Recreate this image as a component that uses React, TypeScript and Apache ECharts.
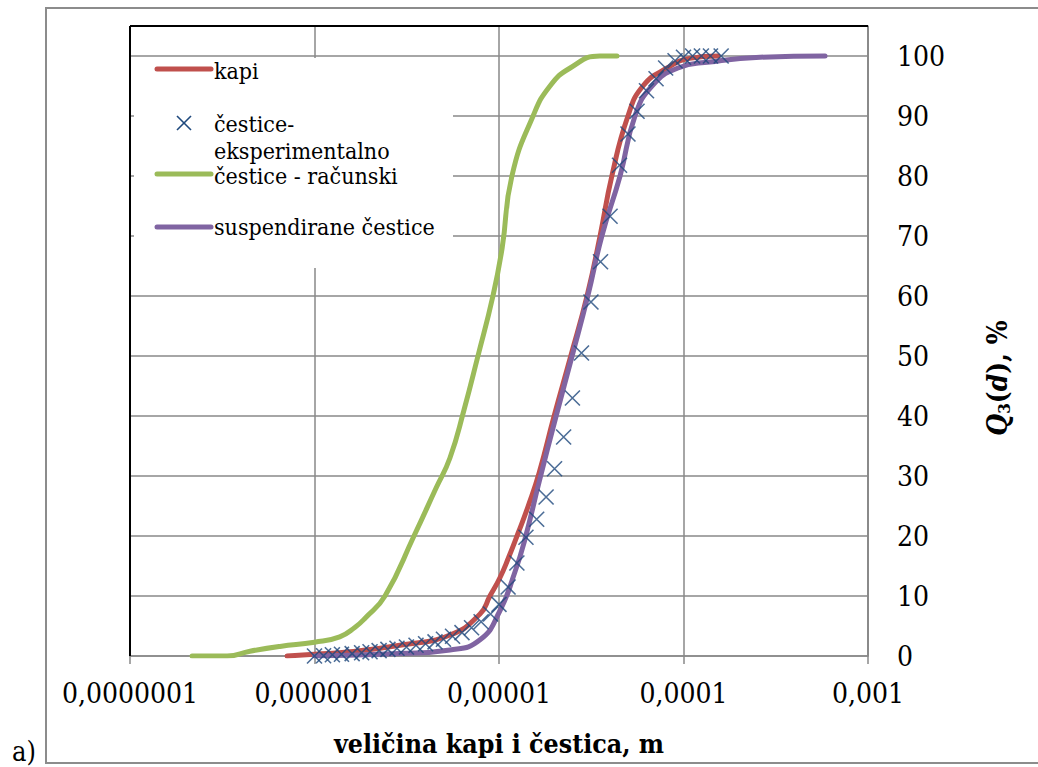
import React, { useEffect, useRef } from "react";
import * as echarts from "echarts";

const W = 1038;
const H = 767;
const SERIF = "DejaVu Serif Condensed, DejaVu Serif";

// kapi (droplets): size in micrometres, cumulative Q3 in %
const kapiSizeUm = [0.71, 1.0, 1.56, 2.9, 5.42, 7.89, 8.93, 10.1, 11.3, 12.7, 14.4, 16.5, 19.9, 24.5, 30.0, 35.3, 40.9, 50.0, 60.3, 81.5, 108, 154];
const kapiQ = [0, 0.3, 0.7, 1.8, 3.5, 7, 10, 13, 16.5, 20.5, 25, 30.5, 40, 50, 60, 70, 80, 90, 95, 98, 99.6, 100];

// čestice - eksperimentalno (measured particle classes)
const eksSizeUm = [1.0, 1.12, 1.25, 1.4, 1.6, 1.8, 2.0, 2.24, 2.5, 2.8, 3.15, 3.55, 4.0, 4.5, 5.0, 5.6, 6.3, 7.1, 8.0, 9.0, 10, 11.2, 12.5, 14, 16, 18, 20, 22.4, 25, 28, 31.5, 35.5, 40, 45, 50, 56, 63, 71, 80, 90, 100, 112, 125, 140, 160];
const eksQ = [0, 0.05, 0.2, 0.3, 0.4, 0.55, 0.7, 0.9, 1.1, 1.3, 1.5, 1.8, 2.05, 2.35, 2.8, 3.3, 3.9, 4.7, 5.7, 7, 8.6, 11.5, 15.5, 19.8, 22.8, 26.5, 31.2, 36.5, 43, 50.5, 59, 65.7, 73.3, 81.8, 87, 90.8, 94.2, 96.2, 98, 99.2, 99.8, 100, 100, 100, 100];

// čestice - računski (calculated particles)
const racSizeUm = [0.217, 0.336, 0.447, 0.65, 1.0, 1.37, 1.66, 1.88, 2.41, 3.46, 4.56, 5.42, 6.46, 7.69, 9.27, 10.4, 11.75, 15.3, 18.9, 24.3, 35.2, 43.6];
const racQ = [0, 0, 0.8, 1.6, 2.3, 3.2, 4.8, 6.3, 10, 20, 28, 33, 41, 50, 60, 68, 80, 90, 95, 98, 100, 100];

// suspendirane čestice (suspended particles)
const susSizeUm = [1.0, 2.9, 5.42, 7.89, 10.1, 12.2, 13.7, 16.5, 20.4, 24.9, 30.3, 36.1, 45.3, 54.6, 67.5, 93.3, 139, 260, 585];
const susQ = [0, 0.4, 1, 2.7, 7.5, 14, 19, 29, 40, 50, 60, 70, 80, 90, 95, 98, 99, 99.8, 100];

// axis structure
const xMin = 1e-7;
const xMax = 1e-3;
const yMin = 0;
const yMax = 105;
const yStep = 10;

const C_RED = "#C0504D";
const C_GREEN = "#9BBB59";
const C_PURPLE = "#8064A2";
const C_BLUE = "#1F497D";
const C_MAJOR = "#898989";
const C_MINOR = "#c3c3c3";

const toPairs = (sizesUm: number[], q: number[]) => sizesUm.map((s, i) => [s * 1e-6, q[i]]);

function minorDecadeTicks(): number[] {
  const out: number[] = [];
  for (let e = -7; e < -3; e++) {
    for (let m = 2; m <= 9; m++) out.push(m * Math.pow(10, e));
  }
  return out;
}

function formatDecade(v: number): string {
  const digits = Math.max(0, Math.round(-Math.log10(v)));
  return v.toFixed(digits).replace(".", ",");
}

export default function App() {
  const ref = useRef<HTMLDivElement>(null);

  useEffect(() => {
    if (!ref.current) return;
    const chart = echarts.init(ref.current, null, { renderer: "svg" });

    const lineSeries = (name: string, data: number[][], color: string) => ({
      name,
      type: "line",
      data,
      smooth: 0.5,
      showSymbol: false,
      symbol: "none",
      z: 3,
      lineStyle: { color, width: 5, cap: "round", join: "round" },
      itemStyle: { color },
    });

    const legendLine = (y: number, color: string) => ({
      type: "line",
      z: 51,
      shape: { x1: 157, y1: y, x2: 211, y2: y },
      style: { stroke: color, lineWidth: 5, lineCap: "round" },
    });
    const legendText = (y: number, text: string) => ({
      type: "text",
      z: 51,
      x: 214,
      y,
      style: {
        text,
        fontFamily: SERIF,
        fontSize: 23,
        fill: "#000",
        verticalAlign: "middle",
        align: "left",
      },
    });

    const option: any = {
      animation: false,
      backgroundColor: "#ffffff",
      textStyle: { fontFamily: SERIF },
      grid: { left: 130, top: 26, right: W - 868, bottom: H - 656, containLabel: false },
      xAxis: {
        type: "log",
        logBase: 10,
        min: xMin,
        max: xMax,
        name: "veličina kapi i čestica, m",
        nameLocation: "middle",
        nameGap: 74,
        nameTextStyle: { fontFamily: SERIF, fontSize: 26.5, fontWeight: "bold", color: "#000" },
        axisLine: { show: true, lineStyle: { color: C_MAJOR, width: 1.5 } },
        axisTick: { show: true, length: 8, inside: false, lineStyle: { color: C_MAJOR, width: 1.5 } },
        axisLabel: {
          fontFamily: SERIF,
          fontSize: 28,
          color: "#000",
          margin: 23,
          formatter: (v: number) => formatDecade(v),
        },
        splitLine: { show: true, lineStyle: { color: C_MAJOR, width: 1.5 } },
      },
      yAxis: {
        type: "value",
        position: "right",
        min: yMin,
        max: yMax,
        interval: yStep,
        axisLine: { show: true, lineStyle: { color: C_MAJOR, width: 1.5 } },
        axisTick: { show: false },
        axisLabel: {
          fontFamily: SERIF,
          fontSize: 28,
          color: "#000",
          margin: 29,
          formatter: (v: number) => (v % yStep === 0 ? String(v) : ""),
        },
        splitLine: { show: true, lineStyle: { color: C_MAJOR, width: 1.5 } },
      },
      series: [
        {
          name: "minor-grid",
          type: "line",
          data: [[xMin, 0]],
          showSymbol: false,
          symbol: "none",
          silent: true,
          lineStyle: { opacity: 0 },
          z: 1,
          markLine: {
            silent: true,
            symbol: "none",
            z: 1,
            animation: false,
            label: { show: false },
            lineStyle: { color: C_MINOR, width: 1.5, type: "solid" },
            data: minorDecadeTicks().map((v) => ({ xAxis: v })),
          },
        },
        lineSeries("čestice - računski", toPairs(racSizeUm, racQ), C_GREEN),
        lineSeries("kapi", toPairs(kapiSizeUm, kapiQ), C_RED),
        lineSeries("suspendirane čestice", toPairs(susSizeUm, susQ), C_PURPLE),
        {
          name: "čestice-eksperimentalno",
          type: "scatter",
          data: toPairs(eksSizeUm, eksQ),
          symbol: "path://M0,0L10,10M10,0L0,10",
          symbolSize: 15,
          z: 4,
          itemStyle: { color: "rgba(0,0,0,0)", borderColor: C_BLUE, borderWidth: 1.6 },
        },
      ],
      graphic: [
        // outer frame of the figure
        {
          type: "rect",
          z: 60,
          silent: true,
          shape: { x: 46, y: 8, width: 1010, height: 755 },
          style: { fill: "none", stroke: "#8c8c8c", lineWidth: 2 },
        },
        // plot-area border (top and left)
        {
          type: "line",
          z: 60,
          shape: { x1: 130, y1: 26, x2: 868, y2: 26 },
          style: { stroke: "#000", lineWidth: 2 },
        },
        {
          type: "line",
          z: 60,
          shape: { x1: 130, y1: 26, x2: 130, y2: 656 },
          style: { stroke: "#000", lineWidth: 2 },
        },
        // legend
        {
          type: "rect",
          z: 50,
          shape: { x: 134, y: 58, width: 319, height: 210 },
          style: { fill: "#ffffff" },
        },
        legendLine(69, C_RED),
        legendText(71, "kapi"),
        {
          type: "line",
          z: 51,
          shape: { x1: 177, y1: 116, x2: 191, y2: 130 },
          style: { stroke: C_BLUE, lineWidth: 1.6 },
        },
        {
          type: "line",
          z: 51,
          shape: { x1: 191, y1: 116, x2: 177, y2: 130 },
          style: { stroke: C_BLUE, lineWidth: 1.6 },
        },
        legendText(124, "čestice-"),
        legendText(151, "eksperimentalno"),
        legendLine(174, C_GREEN),
        legendText(176, "čestice - računski"),
        legendLine(227, C_PURPLE),
        legendText(227, "suspendirane čestice"),
        // y-axis title, Q3(d), %
        {
          type: "text",
          z: 51,
          x: 997,
          y: 378,
          rotation: Math.PI / 2,
          style: {
            text: "{q|Q}{s|3}{n|(}{d|d}{n|), %}",
            align: "center",
            verticalAlign: "middle",
            fill: "#000",
            rich: {
              q: { fontFamily: SERIF, fontSize: 28, fontWeight: "bold", fontStyle: "italic", lineHeight: 30, fill: "#000" },
              s: { fontFamily: SERIF, fontSize: 17, fontWeight: "bold", verticalAlign: "bottom", fill: "#000" },
              n: { fontFamily: SERIF, fontSize: 28, fontWeight: "bold", lineHeight: 30, fill: "#000" },
              d: { fontFamily: SERIF, fontSize: 28, fontWeight: "bold", fontStyle: "italic", lineHeight: 30, fill: "#000" },
            },
          },
        },
        // panel tag
        {
          type: "text",
          z: 51,
          x: 12,
          y: 751,
          style: {
            text: "a)",
            fontFamily: SERIF,
            fontSize: 27,
            fill: "#000",
            verticalAlign: "middle",
            align: "left",
          },
        },
      ],
    };

    chart.setOption(option);
    return () => chart.dispose();
  }, []);

  return (
    <div
      ref={ref}
      style={{ position: "fixed", left: 0, top: 0, width: W, height: H, background: "#ffffff" }}
    />
  );
}
